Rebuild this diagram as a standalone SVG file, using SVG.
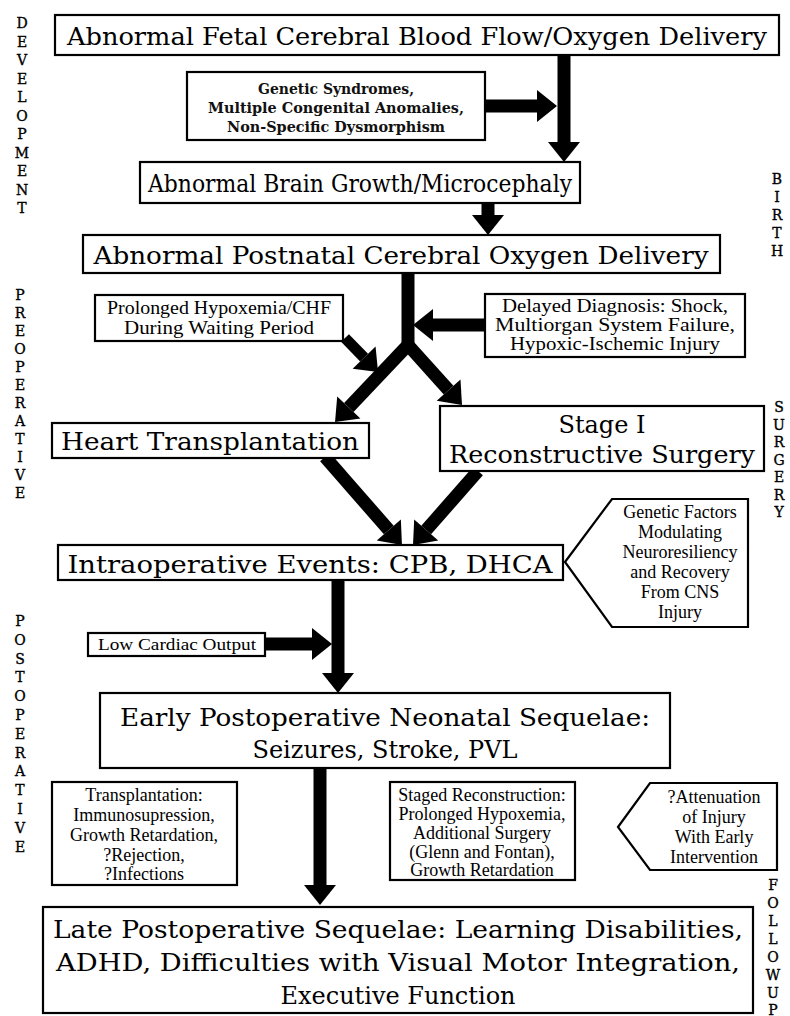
<svg xmlns="http://www.w3.org/2000/svg" width="790" height="1016" viewBox="0 0 790 1016">
<defs>
<marker id="ah" markerUnits="userSpaceOnUse" markerWidth="24" markerHeight="36" viewBox="0 -18 22 36" refX="0" refY="0" orient="auto" overflow="visible">
<path d="M0,-16 L20,0 L0,16 z" fill="#000"/>
</marker>
</defs>
<style>
.box{fill:#fff;stroke:#000;stroke-width:2.2}
.big{font-family:"DejaVu Serif","Liberation Serif",serif;font-size:24px;fill:#000;text-anchor:middle}
.sm{font-family:"DejaVu Serif","Liberation Serif",serif;font-size:14px;font-weight:bold;fill:#111;text-anchor:middle}
.cn{font-family:"Liberation Serif",serif;font-size:18px;fill:#000;text-anchor:middle}
.pa{font-family:"Liberation Serif",serif;font-size:18px;fill:#000;text-anchor:middle}
.side{font-family:"DejaVu Serif","Liberation Serif",serif;font-size:14px;fill:#000;stroke:#000;stroke-width:0.35;text-anchor:middle}
.ar{stroke:#000;stroke-width:13;fill:none;marker-end:url(#ah)}
.ln{stroke:#000;stroke-width:13;fill:none}
</style>
<rect width="790" height="1016" fill="#fff"/>

<g id="connectors">
<line class="ar" x1="564" y1="54" x2="564" y2="142"/>
<line class="ar" x1="485" y1="106" x2="537" y2="106"/>
<line class="ar" x1="488" y1="203" x2="488" y2="215"/>
<line class="ln" x1="408" y1="273" x2="408" y2="347"/>
<line class="ar" x1="408" y1="345" x2="348.8" y2="407.5"/>
<line class="ar" x1="408" y1="345" x2="448.6" y2="390.1"/>
<line class="ar" style="stroke-width:11" x1="345" y1="338" x2="364.1" y2="357.6"/>
<line class="ar" x1="485" y1="325" x2="433" y2="325"/>
<line class="ar" x1="325" y1="457" x2="388.8" y2="530"/>
<line class="ar" x1="478" y1="471" x2="426.2" y2="530"/>
<line class="ar" x1="338" y1="580" x2="338" y2="673"/>
<line class="ar" x1="265" y1="644" x2="312" y2="644"/>
<line class="ar" x1="320" y1="768" x2="320" y2="885"/>
</g>

<g id="n1"><rect class="box" x="55" y="15" width="724" height="40"/><text class="big" x="417" y="45" textLength="700" lengthAdjust="spacingAndGlyphs">Abnormal Fetal Cerebral Blood Flow/Oxygen Delivery</text></g>

<g id="n2"><rect class="box" x="187" y="72" width="298" height="68"/>
<text class="sm" x="336" y="94" textLength="156" lengthAdjust="spacingAndGlyphs">Genetic Syndromes,</text>
<text class="sm" x="336" y="113" textLength="256" lengthAdjust="spacingAndGlyphs">Multiple Congenital Anomalies,</text>
<text class="sm" x="336" y="132" textLength="218" lengthAdjust="spacingAndGlyphs">Non-Specific Dysmorphism</text></g>

<g id="n3"><rect class="box" x="140" y="162" width="440" height="41"/><text class="big" x="360" y="192" textLength="424" lengthAdjust="spacingAndGlyphs">Abnormal Brain Growth/Microcephaly</text></g>

<g id="n4"><rect class="box" x="83" y="235" width="637" height="38"/><text class="big" x="401" y="264" textLength="615" lengthAdjust="spacingAndGlyphs">Abnormal Postnatal Cerebral Oxygen Delivery</text></g>

<g id="n5"><rect class="box" x="95" y="295" width="248" height="46"/>
<text class="cn" x="219" y="314" textLength="224" lengthAdjust="spacingAndGlyphs">Prolonged Hypoxemia/CHF</text>
<text class="cn" x="219" y="334" textLength="190" lengthAdjust="spacingAndGlyphs">During Waiting Period</text></g>

<g id="n6"><rect class="box" x="485" y="294" width="260" height="63"/>
<text class="cn" x="615" y="312" textLength="226" lengthAdjust="spacingAndGlyphs">Delayed Diagnosis: Shock,</text>
<text class="cn" x="615" y="331" textLength="240" lengthAdjust="spacingAndGlyphs">Multiorgan System Failure,</text>
<text class="cn" x="615" y="350" textLength="210" lengthAdjust="spacingAndGlyphs">Hypoxic-Ischemic Injury</text></g>

<g id="n7"><rect class="box" x="52" y="423" width="317" height="35"/><text class="big" x="210" y="450" textLength="298" lengthAdjust="spacingAndGlyphs">Heart Transplantation</text></g>

<g id="n8"><rect class="box" x="440" y="406" width="324" height="65"/>
<text class="big" x="602" y="433">Stage I</text>
<text class="big" x="602" y="463" textLength="306" lengthAdjust="spacingAndGlyphs">Reconstructive Surgery</text></g>

<g id="n9"><polygon class="box" points="565,562 612,499 748,499 748,627 612,627"/>
<text class="pa" x="680" y="518">Genetic Factors</text>
<text class="pa" x="680" y="538">Modulating</text>
<text class="pa" x="680" y="558">Neuroresiliency</text>
<text class="pa" x="680" y="578">and Recovery</text>
<text class="pa" x="680" y="598">From CNS</text>
<text class="pa" x="680" y="618">Injury</text></g>

<g id="n10"><rect class="box" x="58" y="545" width="505" height="35"/><text class="big" x="310" y="573" textLength="485" lengthAdjust="spacingAndGlyphs">Intraoperative Events: CPB, DHCA</text></g>

<g id="n11"><rect class="box" x="88" y="633" width="177" height="23"/><text class="cn" x="177" y="650" style="font-size:16px" textLength="158" lengthAdjust="spacingAndGlyphs">Low Cardiac Output</text></g>

<g id="n12"><rect class="box" x="100" y="693" width="570" height="75"/>
<text class="big" x="385" y="726" textLength="530" lengthAdjust="spacingAndGlyphs">Early Postoperative Neonatal Sequelae:</text>
<text class="big" x="385" y="758">Seizures, Stroke, PVL</text></g>

<g id="n13"><rect class="box" x="52" y="782" width="185" height="103"/>
<text class="pa" x="144" y="801">Transplantation:</text>
<text class="pa" x="144" y="821">Immunosupression,</text>
<text class="pa" x="144" y="841">Growth Retardation,</text>
<text class="pa" x="144" y="861">?Rejection,</text>
<text class="pa" x="144" y="880">?Infections</text></g>

<g id="n14"><rect class="box" x="390" y="782" width="185" height="98"/>
<text class="pa" x="482" y="801">Staged Reconstruction:</text>
<text class="pa" x="482" y="820">Prolonged Hypoxemia,</text>
<text class="pa" x="482" y="839">Additional Surgery</text>
<text class="pa" x="482" y="858">(Glenn and Fontan),</text>
<text class="pa" x="482" y="876">Growth Retardation</text></g>

<g id="n15"><polygon class="box" points="618,827 650,783 777,783 777,870 650,870"/>
<text class="pa" x="714" y="803">?Attenuation</text>
<text class="pa" x="714" y="823">of Injury</text>
<text class="pa" x="714" y="843">With Early</text>
<text class="pa" x="714" y="863">Intervention</text></g>

<g id="n16"><rect class="box" x="43" y="907" width="710" height="106"/>
<text class="big" x="398" y="938" textLength="690" lengthAdjust="spacingAndGlyphs">Late Postoperative Sequelae: Learning Disabilities,</text>
<text class="big" x="398" y="971" textLength="684" lengthAdjust="spacingAndGlyphs">ADHD, Difficulties with Visual Motor Integration,</text>
<text class="big" x="398" y="1004">Executive Function</text></g>

<g id="side-labels">
<text class="side" x="22" y="28">D</text><text class="side" x="22" y="46.5">E</text><text class="side" x="22" y="65">V</text><text class="side" x="22" y="83.5">E</text><text class="side" x="22" y="102">L</text><text class="side" x="22" y="120.5">O</text><text class="side" x="22" y="139">P</text><text class="side" x="22" y="157.5">M</text><text class="side" x="22" y="176">E</text><text class="side" x="22" y="194.5">N</text><text class="side" x="22" y="213">T</text>
<text class="side" x="777" y="184">B</text><text class="side" x="777" y="202">I</text><text class="side" x="777" y="220">R</text><text class="side" x="777" y="238">T</text><text class="side" x="777" y="256">H</text>
<text class="side" x="20" y="300">P</text><text class="side" x="20" y="318">R</text><text class="side" x="20" y="336">E</text><text class="side" x="20" y="354">O</text><text class="side" x="20" y="372">P</text><text class="side" x="20" y="390">E</text><text class="side" x="20" y="408">R</text><text class="side" x="20" y="426">A</text><text class="side" x="20" y="444">T</text><text class="side" x="20" y="462">I</text><text class="side" x="20" y="480">V</text><text class="side" x="20" y="498">E</text>
<text class="side" x="779" y="412">S</text><text class="side" x="779" y="429.5">U</text><text class="side" x="779" y="447">R</text><text class="side" x="779" y="464.5">G</text><text class="side" x="779" y="482">E</text><text class="side" x="779" y="499.5">R</text><text class="side" x="779" y="517">Y</text>
<text class="side" x="20" y="626">P</text><text class="side" x="20" y="644.8">O</text><text class="side" x="20" y="663.6">S</text><text class="side" x="20" y="682.4">T</text><text class="side" x="20" y="701.2">O</text><text class="side" x="20" y="720">P</text><text class="side" x="20" y="738.8">E</text><text class="side" x="20" y="757.6">R</text><text class="side" x="20" y="776.4">A</text><text class="side" x="20" y="795.2">T</text><text class="side" x="20" y="814">I</text><text class="side" x="20" y="832.8">V</text><text class="side" x="20" y="851.6">E</text>
<text class="side" x="773" y="890">F</text><text class="side" x="773" y="908">O</text><text class="side" x="773" y="926">L</text><text class="side" x="773" y="944">L</text><text class="side" x="773" y="962">O</text><text class="side" x="773" y="980">W</text><text class="side" x="773" y="998">U</text><text class="side" x="773" y="1015">P</text>
</g>
</svg>
